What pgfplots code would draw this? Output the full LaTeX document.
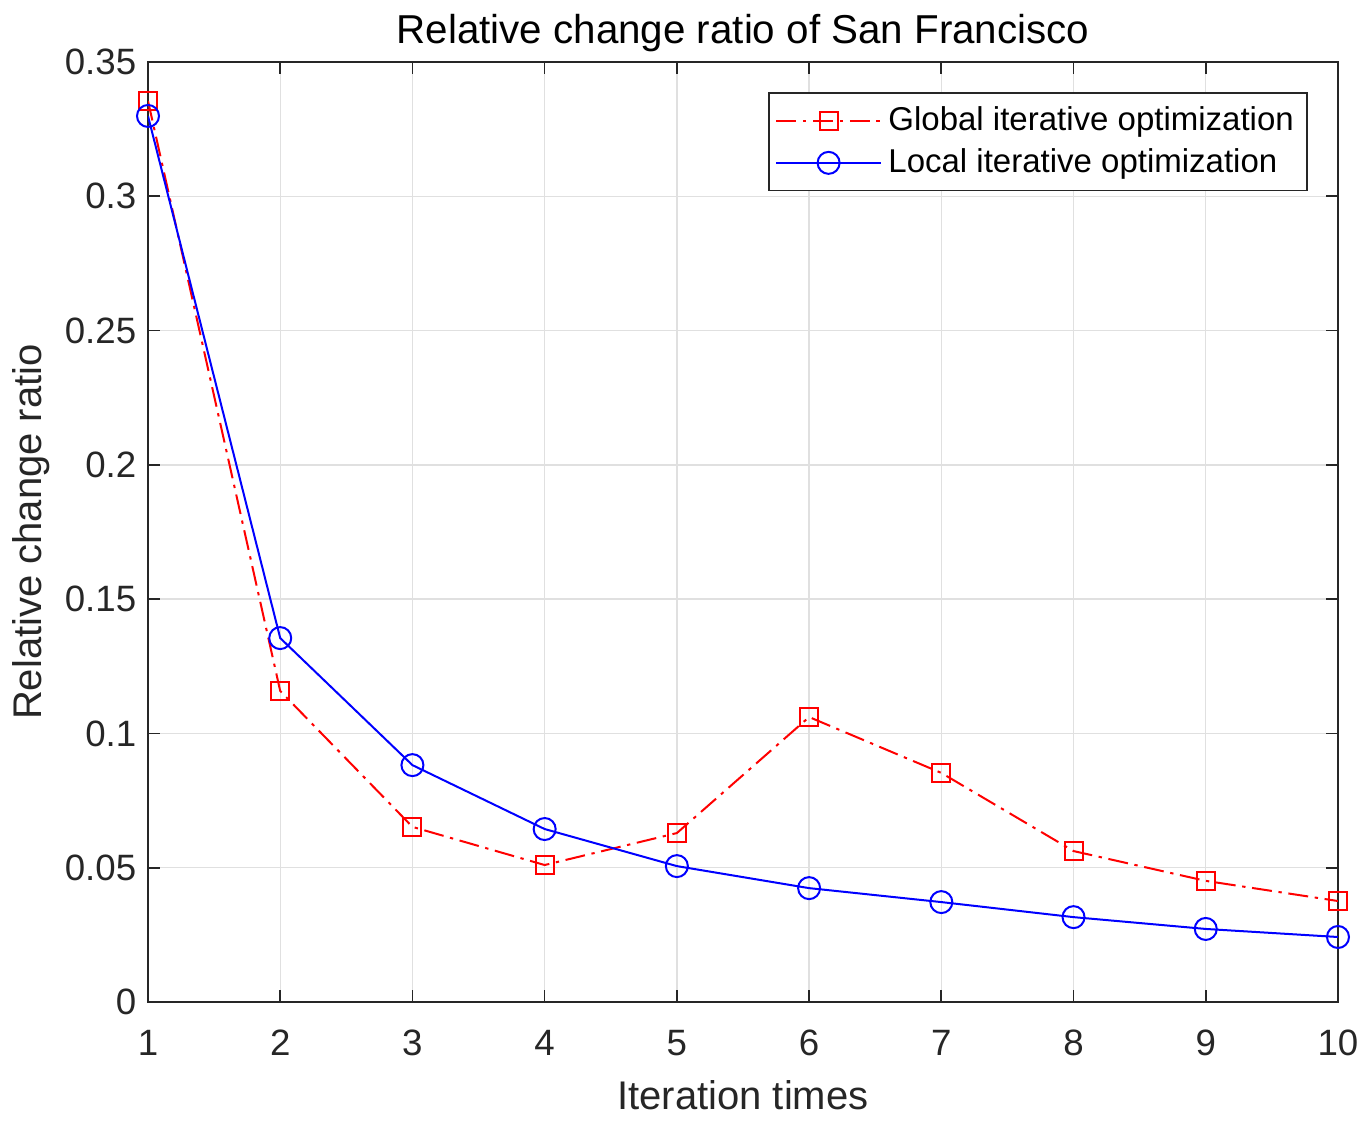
\documentclass[border=0pt]{standalone}
\usepackage{pgfplots}
\pgfplotsset{compat=1.18}
\usepackage{fontspec}
\setmainfont{Liberation Sans}
\definecolor{axgray}{HTML}{262626}
\definecolor{gridgray}{HTML}{E0E0E0}
\begin{document}
\begin{tikzpicture}
\path[use as bounding box] (-44.4pt,-36pt) rectangle (366.6pt,300.6pt);
\begin{axis}[
  at={(0,0)}, anchor=south west,
  width=357pt, height=282pt, scale only axis,
  xmin=1, xmax=10, ymin=0, ymax=0.35,
  xtick={1,...,10},
  ytick={0,0.05,0.1,0.15,0.2,0.25,0.3,0.35},
  yticklabels={0,0.05,0.1,0.15,0.2,0.25,0.3,0.35},
  /pgf/number format/assume math mode=true,
  tick align=inside,
  major tick length=3.6pt,
  xmajorgrids, ymajorgrids,
  grid style={gridgray, line width=0.4pt},
  axis line style={axgray, line width=0.5pt},
  every tick/.style={axgray, line width=0.5pt},
  tick label style={font=\fontsize{11}{13}\selectfont, text=axgray},
  xticklabel style={yshift=-4.8pt},
  xlabel={Iteration times},
  ylabel={Relative change ratio},
  label style={font=\fontsize{12}{14}\selectfont, text=axgray},
  xlabel style={yshift=-0.7pt},
  ylabel style={yshift=-2.4pt},
  title={Relative change ratio of San Francisco},
  title style={font=\fontsize{12.1}{14}\selectfont, text=black, yshift=-6.5pt},
  legend style={at={(1,1)}, xshift=-9pt, yshift=-9pt, anchor=north east,
    draw=axgray, line width=0.5pt, font=\fontsize{9.9}{11}\selectfont,
    inner sep=2pt, row sep=0pt},
  legend cell align=left,
  legend image code/.code={\draw[mark repeat=2,mark phase=2,#1] plot coordinates {(0cm,0cm) (0.55cm,0cm) (1.1cm,0cm)};},
]
\addplot[red, line width=0.6pt, dash pattern=on 6pt off 2pt on 1pt off 2pt,
  mark=square, mark size=2.7pt, mark options={solid}]
  coordinates {(1,0.3355) (2,0.1158) (3,0.0652) (4,0.0510) (5,0.0629) (6,0.1061) (7,0.0853) (8,0.0562) (9,0.0451) (10,0.0376)};
\addlegendentry{Global iterative optimization}
\addplot[blue, line width=0.6pt, mark=o, mark size=3.3pt]
  coordinates {(1,0.3299) (2,0.1355) (3,0.0882) (4,0.0644) (5,0.0506) (6,0.0424) (7,0.0372) (8,0.0316) (9,0.0272) (10,0.0242)};
\addlegendentry{Local iterative optimization}
\end{axis}
\end{tikzpicture}
\end{document}
